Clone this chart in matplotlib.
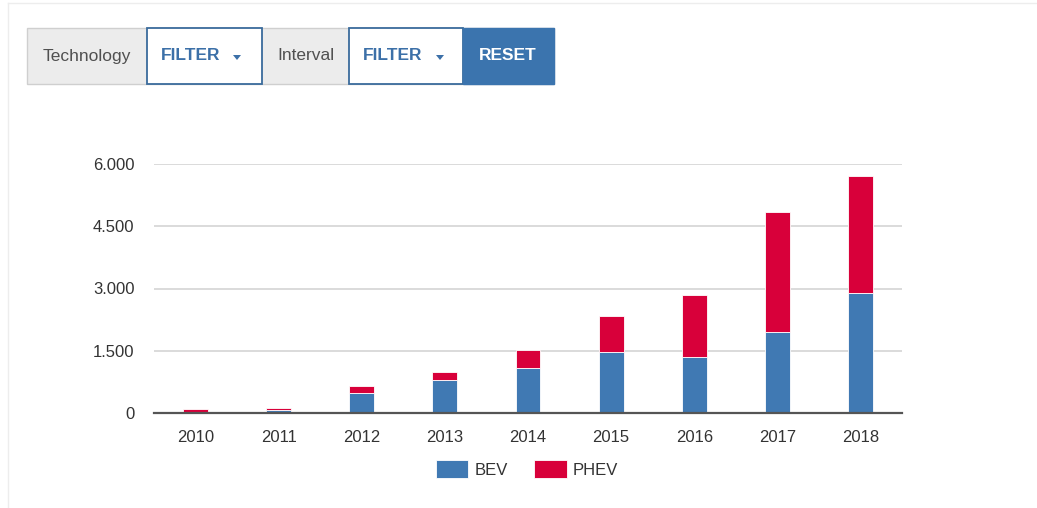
import matplotlib
matplotlib.use("Agg")
import matplotlib.pyplot as plt
from matplotlib.patches import Rectangle, Polygon
import numpy as np

# Daten
years = ['2010', '2011', '2012', '2013', '2014', '2015', '2016', '2017', '2018']
bev = [20, 70, 480, 800, 1080, 1460, 1350, 1950, 2880]
phev = [75, 60, 160, 200, 430, 870, 1500, 2890, 2820]
y_ticks = [0, 1500, 3000, 4500, 6000]
y_tick_labels = ['0', '1.500', '3.000', '4.500', '6.000']

blue = '#4079b3'
red = '#d8003a'
W, H = 1037, 508

plt.rcParams['font.family'] = ['Liberation Sans Narrow', 'Liberation Sans', 'DejaVu Sans']

fig = plt.figure(figsize=(W / 100, H / 100), dpi=100)


def fx(x):
    return x / W


def fy(y):
    return 1 - y / H


# Panel-Rahmen
fig.add_artist(plt.Line2D([fx(8), fx(1037)], [fy(3), fy(3)], color='#ededed', lw=1))
fig.add_artist(plt.Line2D([fx(8), fx(8)], [fy(3), fy(508)], color='#ededed', lw=1))

# Button-Leiste
def box(x0, x1, face, edge, lw=1.0):
    fig.add_artist(Rectangle((fx(x0), fy(84)), fx(x1) - fx(x0), fy(28) - fy(84),
                             transform=fig.transFigure, facecolor=face,
                             edgecolor=edge, lw=lw))


def caret(cx):
    fig.add_artist(Polygon([(fx(cx - 4), fy(55)), (fx(cx + 4), fy(55)), (fx(cx), fy(60))],
                           closed=True, transform=fig.transFigure,
                           facecolor='#3c70a8', edgecolor='none'))


box(27, 554, '#ececec', '#cfcfcf')
box(147, 262, 'white', '#3a6b9c', 1.3)
box(349, 463, 'white', '#3a6b9c', 1.3)
box(463, 554, '#3b74ae', '#3b74ae')
btn_font = dict(fontsize=12.5, va='center', ha='center')
fig.text(fx(87), fy(56), 'Technology', color='#505050', **btn_font)
fig.text(fx(191), fy(56), 'FILTER', color='#3c70a8', fontweight='bold', **btn_font)
caret(237)
fig.text(fx(306), fy(56), 'Interval', color='#505050', **btn_font)
fig.text(fx(393), fy(56), 'FILTER', color='#3c70a8', fontweight='bold', **btn_font)
caret(440)
fig.text(fx(508), fy(56), 'RESET', color='white', fontweight='bold', **btn_font)

# Diagramm
ax = fig.add_axes([fx(154), fy(413), fx(902) - fx(154), fy(164) - fy(413)])
x = np.arange(len(years))
ax.bar(x, bev, width=0.3, color=blue, edgecolor='white', linewidth=0.6, label='BEV', zorder=3)
ax.bar(x, phev, width=0.3, bottom=bev, color=red, edgecolor='white', linewidth=0.6,
       label='PHEV', zorder=3)

ax.set_xlim(-0.5, len(years) - 0.5)
ax.set_ylim(0, 6000)
ax.set_xticks(x)
ax.set_xticklabels(years)
ax.set_yticks(y_ticks)
ax.set_yticklabels(y_tick_labels)
ax.tick_params(length=0, labelsize=12, colors='#333333')
ax.tick_params(axis='y', pad=14)
ax.tick_params(axis='x', pad=12)
ax.grid(axis='y', color='#d8d8d8', lw=1.3, zorder=0)
for s in ['top', 'right', 'left']:
    ax.spines[s].set_visible(False)
ax.spines['bottom'].set_color('#555555')
ax.spines['bottom'].set_linewidth(1.6)
ax.spines['bottom'].set_zorder(4)

fig.legend(loc='center', bbox_to_anchor=(fx(527), fy(469)), ncol=2, frameon=False,
           fontsize=12, handlelength=1.95, handleheight=1.35, handletextpad=0.35,
           columnspacing=1.6, labelcolor='#333333')

fig.savefig('out.png', dpi=100)
